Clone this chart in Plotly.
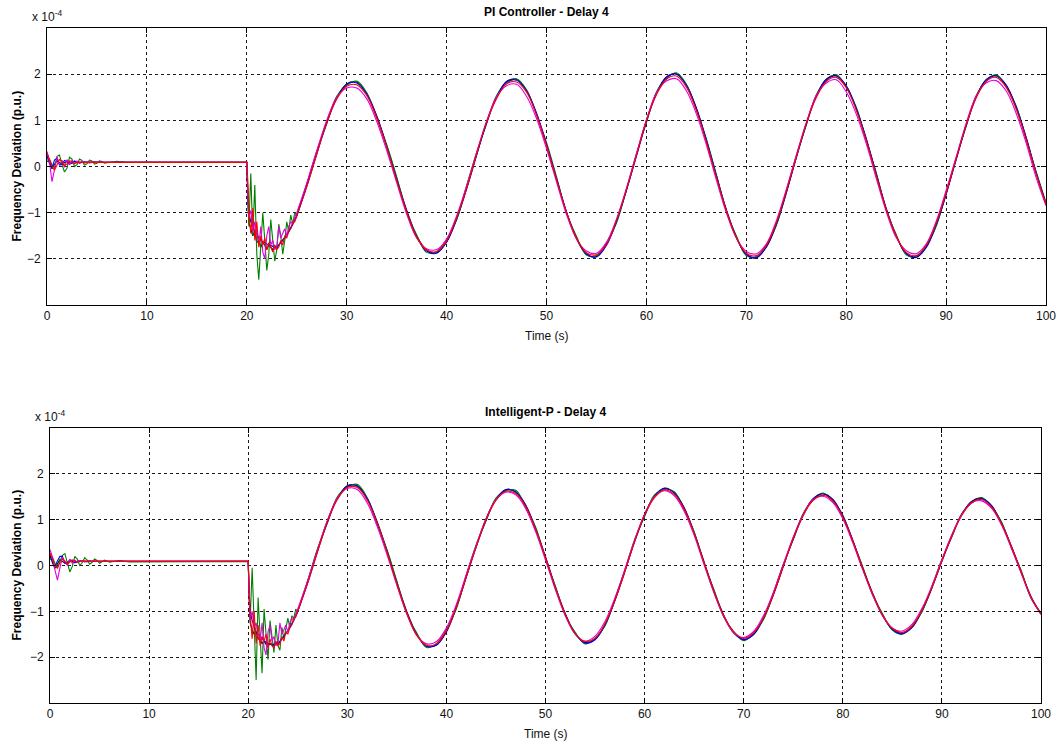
import plotly.graph_objects as go

# ---------------- time axes (s) ----------------
T_INIT = [0, 0.25, 0.5, 0.75, 1.0, 1.25, 1.5, 1.75, 2.0, 2.25, 2.5, 2.75, 3.0,
          3.25, 3.5, 3.75, 4.0, 4.25, 4.5, 4.75, 5.0, 5.25, 5.5, 5.75, 6.0, 7, 8, 20.0]
T_DROP = [20.1, 20.2, 20.4, 20.6, 20.8, 21.0, 21.2, 21.4, 21.6, 21.8, 22.0, 22.2, 22.4,
          22.6, 22.8, 23.0, 23.2, 23.4, 23.6, 23.8, 24.0, 24.2, 24.4, 24.6, 24.8, 25.0]
T_MAIN = [26, 27, 28, 29, 30, 31, 32, 33, 34, 35, 36, 37, 38, 39, 40, 41, 42, 43, 44, 45,
          46, 47, 48, 49, 50, 51, 52, 53, 54, 55, 56, 57, 58, 59, 60, 61, 62, 63, 64, 65,
          66, 67, 68, 69, 70, 71, 72, 73, 74, 75, 76, 77, 78, 79, 80, 81, 82, 83, 84, 85,
          86, 87, 88, 89, 90, 91, 92, 93, 94, 95, 96, 97, 98, 99, 100]

# ---------------- PI controller (x 1e-4 p.u.) ----------------
PI_INIT = {
    "black":   [0.25, 0.08, -0.05, 0.05, 0.12, 0.08, 0.04, 0.08, 0.11, 0.08, 0.07, 0.10, 0.09, 0.08,
                0.09, 0.09, 0.09, 0.09, 0.09, 0.09, 0.09, 0.09, 0.09, 0.09, 0.09, 0.09, 0.09, 0.09],
    "green":   [0.10, 0.16, 0.04, -0.03, 0.22, 0.25, 0.04, -0.12, -0.04, 0.20, 0.16, 0.00, 0.04, 0.16,
                0.13, 0.03, 0.06, 0.14, 0.12, 0.05, 0.07, 0.12, 0.11, 0.07, 0.08, 0.11, 0.09, 0.09],
    "blue":    [0.22, 0.06, -0.04, 0.14, 0.18, 0.03, 0.05, 0.13, 0.11, 0.05, 0.08, 0.12, 0.10, 0.07,
                0.09, 0.10, 0.09, 0.08, 0.09, 0.10, 0.09, 0.09, 0.09, 0.09, 0.09, 0.09, 0.09, 0.09],
    "magenta": [0.33, 0.10, -0.33, -0.10, 0.20, 0.05, 0.13, -0.02, 0.15, 0.04, 0.13, 0.06, 0.12, 0.07,
                0.11, 0.08, 0.10, 0.08, 0.10, 0.09, 0.10, 0.09, 0.09, 0.09, 0.09, 0.09, 0.09, 0.09],
    "red":     [0.30, 0.15, 0.00, -0.08, 0.03, 0.15, 0.12, 0.02, 0.05, 0.12, 0.11, 0.06, 0.08, 0.10,
                0.09, 0.08, 0.09, 0.10, 0.09, 0.09, 0.09, 0.09, 0.09, 0.09, 0.09, 0.09, 0.09, 0.09],
}
PI_DROP = {
    "black":   [-0.7, -1.2, -1.35, -1.5, -1.4, -1.65, -1.6, -1.75, -1.65, -1.7, -1.8, -1.7, -1.75,
                -1.8, -1.72, -1.78, -1.7, -1.65, -1.58, -1.55, -1.48, -1.4, -1.33, -1.25, -1.15, -1.08],
    "green":   [-0.5, -1.3, -0.15, -1.5, -0.4, -1.9, -2.45, -1.6, -1.0, -1.6, -2.25, -1.9, -1.15,
                -1.6, -2.05, -1.8, -1.25, -1.5, -1.9, -1.6, -1.2, -1.4, -1.05, -1.25, -1.0, -1.05],
    "blue":    [-0.6, -1.0, -1.2, -1.3, -1.4, -1.45, -1.55, -1.6, -1.62, -1.65, -1.68, -1.7, -1.72,
                -1.73, -1.74, -1.73, -1.7, -1.66, -1.6, -1.55, -1.49, -1.42, -1.34, -1.25, -1.16, -1.07],
    "magenta": [-0.6, -1.1, -0.95, -1.4, -1.2, -1.5, -1.7, -1.3, -1.85, -2.0, -1.5, -1.3, -1.7,
                -1.6, -1.8, -1.75, -1.3, -1.55, -1.45, -1.35, -1.5, -1.3, -1.2, -1.25, -1.1, -1.0],
    "red":     [-0.3, -1.0, -1.45, -0.9, -1.6, -1.2, -1.75, -1.5, -1.7, -1.55, -1.8, -1.65, -1.75,
                -1.85, -1.7, -1.8, -1.75, -1.6, -1.7, -1.5, -1.55, -1.4, -1.35, -1.2, -1.2, -1.07],
}
PI_MAIN = {
    "black":   [-0.40, 0.30, 0.97, 1.49, 1.79, 1.83, 1.58, 1.10, 0.46, -0.25, -0.94, -1.50, -1.81, -1.87, -1.64,
                -1.15, -0.49, 0.24, 0.96, 1.51, 1.84, 1.89, 1.65, 1.14, 0.47, -0.27, -0.99, -1.56, -1.90, -1.95,
                -1.69, -1.18, -0.51, 0.25, 1.00, 1.59, 1.94, 2.01, 1.77, 1.27, 0.58, -0.19, -0.93, -1.52, -1.91,
                -1.98, -1.75, -1.27, -0.58, 0.20, 0.93, 1.53, 1.89, 1.97, 1.75, 1.27, 0.61, -0.15, -0.90, -1.49,
                -1.89, -1.97, -1.76, -1.28, -0.61, 0.16, 0.90, 1.51, 1.88, 1.97, 1.77, 1.30, 0.64, -0.12, -0.80],
    "green":   [-0.38, 0.33, 0.92, 1.52, 1.76, 1.85, 1.60, 1.05, 0.47, -0.22, -0.99, -1.48, -1.86, -1.84, -1.58,
                -1.16, -0.42, 0.30, 0.92, 1.54, 1.80, 1.90, 1.66, 1.12, 0.52, -0.22, -1.00, -1.51, -1.92, -1.93,
                -1.66, -1.23, -0.50, 0.27, 0.95, 1.61, 1.90, 2.03, 1.78, 1.22, 0.60, -0.17, -0.97, -1.50, -1.93,
                -1.95, -1.69, -1.28, -0.53, 0.23, 0.89, 1.55, 1.86, 1.99, 1.71, 1.29, 0.56, -0.13, -0.94, -1.47,
                -1.91, -1.94, -1.71, -1.30, -0.57, 0.18, 0.86, 1.53, 1.85, 1.99, 1.73, 1.32, 0.60, -0.10, -0.78],
    "blue":    [-0.43, 0.27, 0.94, 1.48, 1.78, 1.81, 1.57, 1.09, 0.43, -0.28, -0.97, -1.52, -1.83, -1.88, -1.63,
                -1.12, -0.46, 0.25, 0.94, 1.50, 1.83, 1.87, 1.64, 1.16, 0.48, -0.26, -0.98, -1.55, -1.89, -1.96,
                -1.71, -1.19, -0.52, 0.22, 0.97, 1.58, 1.93, 2.00, 1.76, 1.26, 0.57, -0.20, -0.95, -1.54, -1.90,
                -1.97, -1.74, -1.24, -0.56, 0.18, 0.91, 1.52, 1.88, 1.96, 1.74, 1.26, 0.60, -0.16, -0.92, -1.51,
                -1.88, -1.96, -1.75, -1.26, -0.59, 0.14, 0.88, 1.50, 1.87, 1.96, 1.76, 1.29, 0.63, -0.13, -0.81],
    "magenta": [-0.36, 0.34, 1.00, 1.50, 1.70, 1.70, 1.47, 0.98, 0.35, -0.35, -1.03, -1.55, -1.78, -1.80, -1.57,
                -1.07, -0.42, 0.30, 0.98, 1.51, 1.75, 1.78, 1.52, 1.04, 0.39, -0.33, -1.04, -1.57, -1.83, -1.88,
                -1.64, -1.14, -0.47, 0.28, 1.01, 1.59, 1.85, 1.90, 1.64, 1.14, 0.47, -0.29, -1.00, -1.55, -1.84,
                -1.89, -1.68, -1.18, -0.50, 0.24, 0.95, 1.53, 1.81, 1.88, 1.62, 1.14, 0.50, -0.25, -0.97, -1.54,
                -1.82, -1.89, -1.68, -1.19, -0.52, 0.20, 0.93, 1.52, 1.81, 1.86, 1.64, 1.16, 0.52, -0.23, -0.85],
    "red":     [-0.44, 0.26, 0.95, 1.46, 1.74, 1.77, 1.54, 1.06, 0.42, -0.30, -0.98, -1.53, -1.81, -1.84, -1.61,
                -1.11, -0.48, 0.27, 0.96, 1.47, 1.79, 1.83, 1.61, 1.12, 0.46, -0.28, -0.99, -1.55, -1.87, -1.91,
                -1.69, -1.17, -0.50, 0.24, 0.99, 1.55, 1.89, 1.96, 1.72, 1.22, 0.53, -0.23, -0.96, -1.54, -1.88,
                -1.93, -1.71, -1.22, -0.54, 0.20, 0.93, 1.49, 1.84, 1.93, 1.71, 1.22, 0.57, -0.19, -0.93, -1.50,
                -1.86, -1.93, -1.71, -1.23, -0.57, 0.16, 0.89, 1.48, 1.84, 1.93, 1.72, 1.25, 0.60, -0.15, -0.82],
}

# ---------------- Intelligent-P (x 1e-4 p.u.) ----------------
IP_INIT = {
    "black":   [0.24, 0.06, -0.06, 0.04, 0.13, 0.09, 0.05, 0.07, 0.11, 0.09, 0.07, 0.09, 0.09, 0.09,
                0.09, 0.09, 0.09, 0.09, 0.09, 0.09, 0.09, 0.09, 0.09, 0.09, 0.09, 0.09, 0.09, 0.09],
    "green":   [0.12, 0.18, 0.05, -0.05, 0.10, 0.22, 0.26, 0.05, -0.14, -0.02, 0.20, 0.14, 0.00, 0.06,
                0.17, 0.12, 0.03, 0.07, 0.14, 0.11, 0.05, 0.08, 0.12, 0.10, 0.07, 0.11, 0.08, 0.09],
    "blue":    [0.20, 0.08, -0.02, 0.10, 0.20, 0.20, 0.05, 0.04, 0.12, 0.11, 0.06, 0.08, 0.11, 0.10,
                0.08, 0.09, 0.10, 0.09, 0.09, 0.09, 0.09, 0.09, 0.09, 0.09, 0.09, 0.09, 0.09, 0.09],
    "magenta": [0.35, 0.18, -0.10, -0.32, -0.05, 0.18, 0.08, 0.00, 0.14, 0.05, 0.12, 0.07, 0.11, 0.08,
                0.10, 0.08, 0.10, 0.09, 0.10, 0.09, 0.09, 0.09, 0.09, 0.09, 0.09, 0.09, 0.09, 0.09],
    "red":     [0.28, 0.12, -0.02, -0.06, 0.06, 0.14, 0.10, 0.03, 0.07, 0.12, 0.10, 0.07, 0.08, 0.10,
                0.09, 0.09, 0.09, 0.09, 0.09, 0.09, 0.09, 0.09, 0.09, 0.09, 0.09, 0.09, 0.09, 0.09],
}
IP_DROP = {
    "black":   [-0.75, -1.25, -1.4, -1.5, -1.45, -1.6, -1.62, -1.7, -1.65, -1.72, -1.75, -1.7, -1.74,
                -1.75, -1.7, -1.72, -1.66, -1.6, -1.55, -1.5, -1.44, -1.36, -1.28, -1.2, -1.1, -1.0],
    "green":   [-0.4, -1.2, -0.05, -1.3, -2.5, -0.7, -1.6, -2.35, -0.95, -1.5, -2.05, -1.2, -1.5,
                -1.9, -1.3, -1.75, -1.85, -1.35, -1.6, -1.4, -1.15, -1.35, -1.1, -1.15, -0.95, -1.0],
    "blue":    [-0.6, -1.0, -1.2, -1.35, -1.45, -1.5, -1.55, -1.6, -1.65, -1.68, -1.7, -1.72, -1.72,
                -1.72, -1.7, -1.68, -1.65, -1.6, -1.55, -1.5, -1.43, -1.36, -1.28, -1.2, -1.1, -1.0],
    "magenta": [-0.7, -1.15, -1.0, -1.35, -1.25, -1.55, -1.65, -1.25, -1.8, -1.95, -1.45, -1.3, -1.65,
                -1.55, -1.75, -1.7, -1.25, -1.5, -1.4, -1.3, -1.45, -1.25, -1.15, -1.2, -1.05, -0.95],
    "red":     [-0.5, -1.1, -1.6, -1.0, -1.7, -1.3, -1.75, -1.55, -1.65, -1.5, -1.8, -1.6, -1.75,
                -1.8, -1.65, -1.75, -1.7, -1.55, -1.65, -1.45, -1.5, -1.35, -1.3, -1.15, -1.12, -1.0],
}
IP_MAIN = {
    "black":   [-0.35, 0.34, 0.98, 1.47, 1.74, 1.74, 1.47, 0.96, 0.33, -0.36, -1.00, -1.49, -1.76, -1.73, -1.45,
                -0.92, -0.26, 0.42, 1.02, 1.45, 1.66, 1.61, 1.32, 0.81, 0.19, -0.47, -1.05, -1.49, -1.68, -1.61,
                -1.30, -0.77, -0.14, 0.54, 1.12, 1.52, 1.69, 1.59, 1.26, 0.72, 0.08, -0.55, -1.09, -1.47, -1.61,
                -1.51, -1.16, -0.64, -0.02, 0.60, 1.12, 1.46, 1.57, 1.44, 1.08, 0.56, -0.04, -0.60, -1.07, -1.39,
                -1.48, -1.35, -0.99, -0.49, 0.11, 0.66, 1.12, 1.40, 1.47, 1.31, 0.94, 0.43, -0.13, -0.68, -1.05],
    "green":   [-0.33, 0.37, 0.93, 1.50, 1.71, 1.77, 1.48, 0.91, 0.35, -0.34, -1.05, -1.47, -1.79, -1.70, -1.40,
                -0.95, -0.21, 0.45, 0.97, 1.47, 1.63, 1.64, 1.27, 0.84, 0.15, -0.45, -1.09, -1.46, -1.71, -1.58,
                -1.32, -0.73, -0.10, 0.57, 1.07, 1.54, 1.66, 1.61, 1.21, 0.74, 0.04, -0.53, -1.13, -1.44, -1.64,
                -1.47, -1.18, -0.60, 0.03, 0.56, 1.13, 1.42, 1.58, 1.40, 1.10, 0.52, -0.02, -0.64, -1.05, -1.41,
                -1.50, -1.31, -1.01, -0.45, 0.13, 0.62, 1.13, 1.36, 1.48, 1.27, 0.96, 0.39, -0.11, -0.72, -1.03],
    "blue":    [-0.38, 0.31, 0.95, 1.46, 1.73, 1.73, 1.46, 0.94, 0.30, -0.39, -1.03, -1.51, -1.76, -1.74, -1.44,
                -0.90, -0.24, 0.40, 0.99, 1.44, 1.65, 1.60, 1.31, 0.79, 0.17, -0.49, -1.07, -1.49, -1.69, -1.62,
                -1.29, -0.75, -0.12, 0.52, 1.09, 1.51, 1.68, 1.58, 1.25, 0.70, 0.06, -0.57, -1.11, -1.47, -1.62,
                -1.50, -1.14, -0.62, 0.00, 0.58, 1.09, 1.45, 1.56, 1.43, 1.08, 0.54, -0.06, -0.62, -1.09, -1.39,
                -1.49, -1.34, -0.97, -0.47, 0.09, 0.64, 1.11, 1.39, 1.46, 1.30, 0.92, 0.41, -0.15, -0.70, -1.06],
    "magenta": [-0.33, 0.35, 0.99, 1.47, 1.68, 1.66, 1.37, 0.86, 0.24, -0.43, -1.06, -1.52, -1.71, -1.66, -1.36,
                -0.85, -0.20, 0.44, 1.02, 1.44, 1.60, 1.54, 1.24, 0.74, 0.12, -0.53, -1.10, -1.50, -1.65, -1.54,
                -1.22, -0.71, -0.09, 0.56, 1.12, 1.50, 1.63, 1.52, 1.18, 0.66, 0.02, -0.60, -1.12, -1.47, -1.57,
                -1.44, -1.09, -0.58, 0.03, 0.62, 1.11, 1.44, 1.51, 1.37, 1.02, 0.50, -0.09, -0.64, -1.09, -1.37,
                -1.43, -1.28, -0.93, -0.44, 0.13, 0.67, 1.11, 1.37, 1.41, 1.25, 0.89, 0.38, -0.17, -0.71, -1.07],
    "red":     [-0.39, 0.30, 0.96, 1.44, 1.70, 1.70, 1.43, 0.94, 0.30, -0.40, -1.03, -1.52, -1.74, -1.71, -1.42,
                -0.91, -0.26, 0.40, 1.00, 1.42, 1.62, 1.57, 1.29, 0.79, 0.17, -0.49, -1.07, -1.49, -1.66, -1.59,
                -1.27, -0.76, -0.14, 0.53, 1.10, 1.48, 1.65, 1.55, 1.23, 0.70, 0.06, -0.57, -1.10, -1.45, -1.59,
                -1.47, -1.14, -0.63, -0.02, 0.59, 1.09, 1.42, 1.53, 1.41, 1.06, 0.54, -0.06, -0.61, -1.08, -1.37,
                -1.46, -1.32, -0.97, -0.48, 0.10, 0.64, 1.09, 1.37, 1.44, 1.28, 0.92, 0.42, -0.14, -0.69, -1.06],
}

SERIES_ORDER = ["black", "green", "blue", "magenta", "red"]
COLORS = {"black": "#000000", "green": "#008000", "blue": "#0000ff",
          "magenta": "#e000e0", "red": "#ff0000"}

X_TICKS = [0, 10, 20, 30, 40, 50, 60, 70, 80, 90, 100]
Y_TICKS = [-2, -1, 0, 1, 2]
TITLES = ["PI Controller - Delay 4", "Intelligent-P - Delay 4"]
X_LABEL = "Time (s)"
Y_LABEL = "Frequency Deviation (p.u.)"

W, H = 1058, 747

fig = go.Figure()

panels = [
    (PI_INIT, PI_DROP, PI_MAIN, "x", "y"),
    (IP_INIT, IP_DROP, IP_MAIN, "x2", "y2"),
]
for init, drop, main, xa, ya in panels:
    for name in SERIES_ORDER:
        assert len(init[name]) == len(T_INIT), (name, "init", len(init[name]))
        assert len(drop[name]) == len(T_DROP), (name, "drop", len(drop[name]))
        assert len(main[name]) == len(T_MAIN), (name, "main", len(main[name]))
        # transient part: straight segments
        fig.add_trace(go.Scatter(x=T_INIT + T_DROP, y=init[name] + drop[name], mode="lines",
                                 xaxis=xa, yaxis=ya,
                                 line=dict(color=COLORS[name], width=1.1),
                                 showlegend=False, hoverinfo="skip"))
        # oscillation part: smoothed
        fig.add_trace(go.Scatter(x=T_DROP[-1:] + T_MAIN, y=drop[name][-1:] + main[name], mode="lines",
                                 xaxis=xa, yaxis=ya,
                                 line=dict(color=COLORS[name], width=1.1, shape="spline", smoothing=1.0),
                                 showlegend=False, hoverinfo="skip"))

# pixel boxes of the two axes (left, right, top, bottom)
boxes = [(47, 1046, 28, 305), (50, 1041, 428, 703)]

def px_x(p):
    return p / W

def px_y(p):
    return 1 - p / H

FONT = "Liberation Sans, Arial, sans-serif"
axis_common = dict(showline=True, linecolor="black", linewidth=1, mirror="ticks",
                   ticks="inside", ticklen=5, tickcolor="black",
                   showgrid=True, gridcolor="#1a1a1a", gridwidth=1, griddash="3px,3px",
                   zeroline=False, automargin=False,
                   tickfont=dict(family=FONT, size=12, color="#111111"))

layout = dict(width=W, height=H, autosize=False, margin=dict(l=0, r=0, t=0, b=0, pad=0),
              paper_bgcolor="white", plot_bgcolor="white", showlegend=False)

for i, (l, r, t, b) in enumerate(boxes):
    sx = "" if i == 0 else "2"
    layout["xaxis" + sx] = dict(axis_common, domain=[px_x(l), px_x(r)], range=[0, 100],
                                tickvals=X_TICKS, anchor="y" + sx)
    layout["yaxis" + sx] = dict(axis_common, domain=[px_y(b), px_y(t)], range=[-3, 3],
                                tickvals=Y_TICKS, anchor="x" + sx, ticklabelstandoff=3)

fig.update_layout(**layout)

ann = []
for i, (l, r, t, b) in enumerate(boxes):
    cx = (l + r) / 2
    ann.append(dict(text="<b>" + TITLES[i] + "</b>", x=px_x(cx), y=px_y(t - 16),
                    xref="paper", yref="paper", showarrow=False, xanchor="center", yanchor="middle",
                    font=dict(family=FONT, size=12, color="black")))
    ann.append(dict(text=X_LABEL, x=px_x(cx), y=px_y(b + 31),
                    xref="paper", yref="paper", showarrow=False, xanchor="center", yanchor="middle",
                    font=dict(family=FONT, size=12, color="#111111")))
    ann.append(dict(text="<b>" + Y_LABEL + "</b>", x=px_x(16), y=px_y((t + b) / 2),
                    xref="paper", yref="paper", showarrow=False, xanchor="center", yanchor="middle",
                    textangle=-90,
                    font=dict(family=FONT, size=12, color="black")))
    ann.append(dict(text="x 10<sup>-4</sup>", x=px_x(l - 17), y=px_y(t - 12),
                    xref="paper", yref="paper", showarrow=False, xanchor="left", yanchor="middle",
                    font=dict(family=FONT, size=12, color="#111111")))
fig.update_layout(annotations=ann)

fig.write_html("out.html", config={"responsive": False})
